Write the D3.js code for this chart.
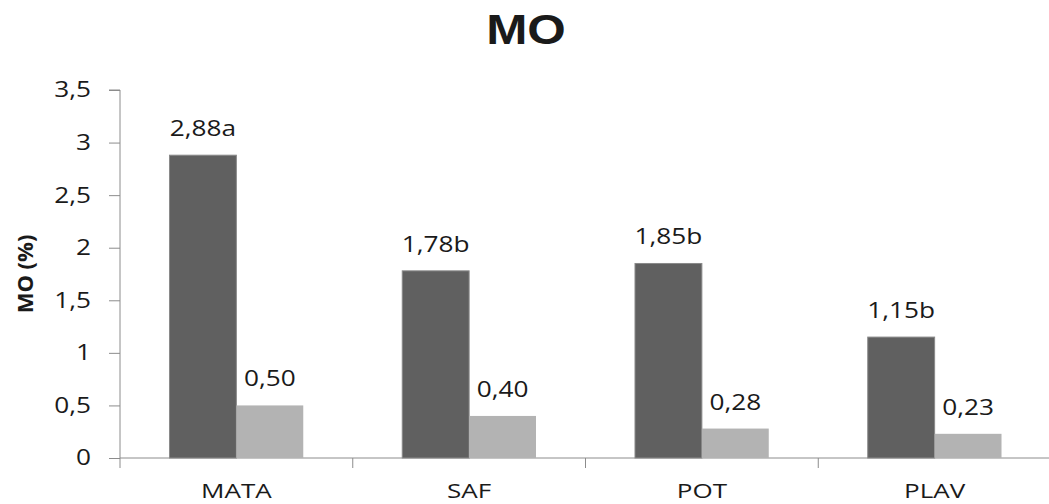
<!DOCTYPE html>
<html><head><meta charset="utf-8">
<script src="https://cdn.jsdelivr.net/npm/d3@7"></script>
<style>body{margin:0;background:#fff}svg{display:block}text{font-family:"Open Sans",sans-serif;fill:#1a1a1a}</style>
</head><body><svg id="c" width="1049" height="504"></svg>
<script>
const categories = ["MATA","SAF","POT","PLAV"];
const seriesDark = [2.88,1.78,1.85,1.15];
const seriesLight = [0.50,0.40,0.28,0.23];
const labelsDark = ["2,88a","1,78b","1,85b","1,15b"];
const labelsLight = ["0,50","0,40","0,28","0,23"];
const yTicks = [0,0.5,1,1.5,2,2.5,3,3.5];

const svg = d3.select("#c");
const L=120,R=1051,T=90,B=458;
const SX=1.22;
const x = d3.scaleBand().domain(categories).range([L,R]).paddingInner(0).paddingOuter(0);
const y = d3.scaleLinear().domain([0,3.5]).range([B,T]);
const fmt = v => String(v).replace(".",",");

// stretch text horizontally around its anchor point
function stretch(sel, sx){
  sel.each(function(){
    const t=d3.select(this);
    const tx=+t.attr("x")||0, ty=+t.attr("y")||0;
    t.attr("x",0).attr("y",0).attr("transform",`translate(${tx},${ty}) scale(${sx},1)`);
  });
}

// y axis
const ya = svg.append("g").attr("transform",`translate(${L},0)`)
  .call(d3.axisLeft(y).tickValues(yTicks).tickFormat(fmt).tickSize(11).tickPadding(18));
ya.select(".domain").attr("stroke","#8c8c8c").attr("d",`M-11,${T}H0V${B}`);
ya.selectAll(".tick line").attr("stroke","#8c8c8c");
ya.selectAll(".tick text").attr("font-size",21.5).attr("font-family","Open Sans").attr("fill","#1a1a1a").call(stretch,SX);

// x axis
const xa = svg.append("g").attr("transform",`translate(0,${B})`)
  .call(d3.axisBottom(x).tickSize(0).tickPadding(25));
xa.select(".domain").attr("stroke","#8c8c8c").attr("d",`M${L},0H${R}`);
xa.selectAll(".tick text").attr("font-size",20.5).attr("font-family","Open Sans").attr("fill","#1a1a1a").call(stretch,1.27);
xa.selectAll(".bound").data(categories.slice(0,-1).map(c=>x(c)+x.bandwidth()).concat([L]))
  .enter().append("line").attr("x1",d=>d).attr("x2",d=>d).attr("y1",0).attr("y2",10).attr("stroke","#8c8c8c");

const inner = d3.scaleBand().domain(["d","l"]).range([0,x.bandwidth()]).paddingOuter(0.74).paddingInner(0);
const data = categories.map((c,i)=>({c,d:seriesDark[i],l:seriesLight[i],ld:labelsDark[i],ll:labelsLight[i]}));

const g = svg.append("g");
g.selectAll(".bd").data(data).enter().append("rect")
  .attr("x",d=>x(d.c)+inner("d")).attr("width",inner.bandwidth())
  .attr("y",d=>y(d.d)).attr("height",d=>B-y(d.d))
  .attr("fill","#606060").attr("stroke","#8a8a8a").attr("stroke-width",1);
g.selectAll(".bl").data(data).enter().append("rect")
  .attr("x",d=>x(d.c)+inner("l")).attr("width",inner.bandwidth())
  .attr("y",d=>y(d.l)).attr("height",d=>B-y(d.l))
  .attr("fill","#b3b3b3");

g.selectAll(".td").data(data).enter().append("text")
  .attr("x",d=>x(d.c)+inner("d")+inner.bandwidth()/2).attr("y",d=>y(d.d)-19)
  .attr("text-anchor","middle").attr("font-size",21.5).text(d=>d.ld).call(stretch,SX);
g.selectAll(".tl").data(data).enter().append("text")
  .attr("x",d=>x(d.c)+inner("l")+inner.bandwidth()/2).attr("y",d=>y(d.l)-19)
  .attr("text-anchor","middle").attr("font-size",21.5).text(d=>d.ll).call(stretch,SX);

svg.append("text").attr("x",526).attr("y",44).attr("text-anchor","middle")
  .style("font-family","'Liberation Sans',Arial,sans-serif")
  .attr("font-size",43).attr("font-weight","bold").attr("fill","#000").text("MO").call(stretch,1.15);
svg.append("text").attr("transform","translate(33,274) rotate(-90)").attr("text-anchor","middle")
  .attr("font-size",22).attr("font-weight","bold").attr("fill","#000").text("MO (%)");
</script></body></html>
